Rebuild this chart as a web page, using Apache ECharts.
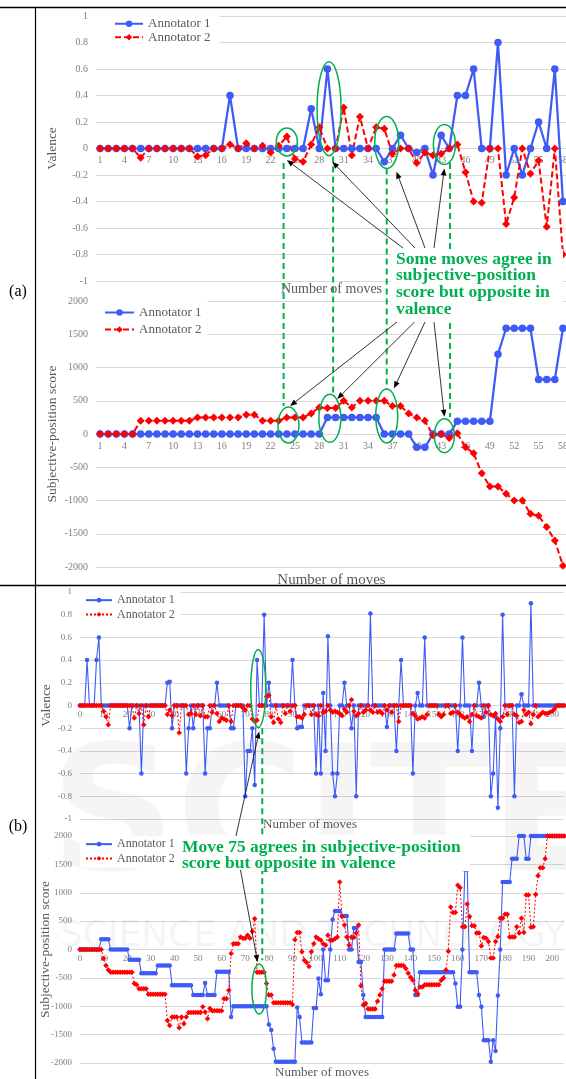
<!DOCTYPE html>
<html>
<head>
<meta charset="utf-8">
<title>Annotator agreement</title>
<script src="https://cdn.jsdelivr.net/npm/echarts@6.0.0/dist/echarts.min.js"></script>
<style>
  html, body { margin: 0; padding: 0; background: #fff; }
  #chart { width: 566px; height: 1079px; }
</style>
</head>
<body>
<div id="chart"></div>
<script>
// ---- panel (a): 58 moves ----
var movesA = ['1','2','3','4','5','6','7','8','9','10','11','12','13','14','15','16','17','18','19','20',
  '21','22','23','24','25','26','27','28','29','30','31','32','33','34','35','36','37','38','39','40',
  '41','42','43','44','45','46','47','48','49','50','51','52','53','54','55','56','57','58'];

var valenceA1 = [0,0,0,0,0,0,0,0,0,0,
  0,0,0,0,0,0,0.4,0,0,0,
  0,0,0,0,0,0,0.3,0,0.6,0,
  0,0,0,0,0,-0.1,0,0.1,0,-0.03,
  0,-0.2,0.1,0,0.4,0.4,0.6,0,0,0.8,
  -0.2,0,-0.2,0,0.2,0,0.6,-0.4];
var valenceA2 = [0,0,0,0,0,-0.07,0,0,0,0,
  0,0,-0.06,-0.05,0,0,0.03,0,0.04,0,
  0.02,-0.03,0.02,0.09,-0.08,-0.1,0.03,0.16,0,0,
  0.31,-0.05,0.24,0,0.16,0.15,-0.04,0,0,-0.11,
  -0.03,-0.05,-0.04,0,0.03,-0.18,-0.4,-0.41,0,0,
  -0.57,-0.37,0,-0.19,-0.09,-0.59,0,-0.8];
var scoreA1 = [0,0,0,0,0,0,0,0,0,0,
  0,0,0,0,0,0,0,0,0,0,
  0,0,0,0,0,0,0,0,250,250,
  250,250,250,250,250,0,0,0,0,-200,
  -200,0,0,0,190,190,190,190,190,1200,
  1590,1590,1590,1590,820,820,820,1590];
var scoreA2 = [0,0,0,0,0,200,200,200,200,200,
  200,200,250,250,250,250,250,250,290,290,
  200,200,200,250,250,250,310,400,390,390,
  500,400,500,500,500,500,420,420,310,250,
  200,-20,0,-60,10,-200,-290,-590,-790,-790,
  -900,-1000,-1000,-1200,-1230,-1400,-1600,-1980];

// ---- panel (b): moves 0..205 ----
var valenceB1 = [0,0,0,0.4,0,0,0,0.4,0.6,0,
  0,0,0,0,0,0,0,0,0,0,
  0,-0.2,0,0,0,0,-0.6,0,0,0,
  0,0,0,0,0,0,0,0.2,0.21,-0.2,
  0,0,0,0,0,-0.6,-0.2,0,-0.2,0,
  0,0,0,-0.6,-0.2,-0.2,0,0,0.2,0,
  0,0,0,0,-0.2,-0.2,0,0,0,0,
  -0.8,-0.4,-0.4,-0.2,-0.7,0.4,0,0,0.8,0,
  0.2,0,0,0,0,0,0,0,0,0,
  0.4,0,-0.2,-0.19,-0.19,0,0,0,0,0,
  -0.6,0,-0.6,0.11,-0.4,0.61,0,-0.6,-0.8,-0.6,
  0,0,0.2,0,0,-0.2,0,-0.8,0,0,
  0,0,0,0.81,0,0,0,0,0,0,
  -0.19,0,0,0,-0.4,0,0.4,0,0,0,
  0,-0.6,0,0.11,0,0,0.6,0,0,0,
  0,0,0,0,0,0,0,0,0,0,
  -0.4,0,0.6,0,0,0,-0.4,0,0,0.2,
  0,-0.1,0,0,-0.8,-0.6,-0.1,-0.9,-0.2,0.8,
  0,0,0,0,-0.8,0,0,0.1,0,0,
  0,0.9,0,0,0,0,0,0,0,0,
  0,0,0,0,0,0];
var valenceB2 = [0,0,0,0,0,0,0,0,0,0,
  -0.05,-0.1,-0.17,0,0,0,0,0,0,0,
  0,0,0,-0.11,0,-0.07,0,-0.17,0,-0.1,
  0,0,0,0,0,0,0,-0.08,-0.04,-0.09,
  0,0,-0.24,0,0,0,-0.08,-0.07,0,-0.08,
  0,-0.09,0,-0.1,-0.1,0,-0.06,0,-0.07,-0.14,
  -0.11,-0.12,-0.13,0,-0.14,0,0,0,0,-0.02,
  -0.04,0,0,-0.12,-0.14,-0.13,0,0,0,0.08,
  0.09,-0.1,-0.15,0,-0.12,-0.15,0,-0.07,0,-0.05,
  0,0,-0.1,-0.1,-0.11,-0.08,0,0,-0.08,0,
  -0.08,-0.09,0,-0.06,-0.05,0,-0.04,-0.06,-0.05,-0.06,
  -0.07,-0.09,-0.03,-0.06,0,0.05,-0.05,-0.09,-0.07,0,
  -0.06,-0.04,0,-0.04,-0.06,0,-0.06,-0.05,-0.07,0,
  -0.04,0,-0.06,0,0,-0.14,0,0,0,0,
  0,-0.07,-0.09,-0.12,-0.11,-0.1,-0.11,-0.08,0,0,
  0,0,-0.08,-0.1,-0.08,0,0,-0.07,-0.06,0,
  -0.06,-0.08,-0.1,-0.11,-0.1,-0.14,-0.08,0,-0.09,-0.1,
  -0.11,0,-0.06,0,-0.08,-0.09,-0.07,-0.12,-0.14,-0.1,
  0,-0.08,0,0,-0.08,-0.09,-0.15,-0.14,-0.04,-0.08,
  -0.06,-0.16,-0.08,0,-0.1,-0.08,-0.06,-0.07,-0.07,-0.06,
  -0.05,-0.03,0,0,0,0];
var scoreB1 = [0,0,0,0,0,0,0,0,0,180,
  180,180,180,0,0,0,0,0,0,0,
  0,-180,-180,-180,-180,-180,-420,-420,-420,-420,
  -420,-420,-420,-280,-280,-280,-280,-280,-280,-630,
  -630,-630,-630,-630,-630,-630,-630,-630,-800,-800,
  -800,-800,-800,-590,-800,-800,-800,-800,-390,-390,
  -390,-390,-390,-390,-1190,-1000,-1000,-1000,-1000,-1000,
  -1000,-1000,-1000,-1000,-1000,-1000,-1000,-1000,-1000,-1000,
  -1320,-1420,-1750,-1980,-1980,-1980,-1980,-1980,-1980,-1980,
  -1980,-1980,-1020,-1190,-1640,-1640,-1640,-1640,-1640,-1030,
  -1030,-510,-790,0,-540,-540,0,530,680,680,
  680,590,590,590,0,0,380,380,-220,-220,
  -800,-1190,-1190,-1190,-1190,-1190,-1190,-1190,-1190,0,
  0,0,0,0,280,280,280,280,280,280,
  0,0,-800,-800,-400,-400,-400,-400,-400,-400,
  -400,-400,-400,-400,-400,-400,-400,-400,-400,-600,
  -1010,-1010,0,1410,1410,-400,-400,-400,-400,-800,
  -1010,-1600,-1600,-1600,-1980,-1600,-1790,-810,0,1190,
  1190,1190,1190,1600,1600,1600,2000,2000,2000,1600,
  1600,2000,2000,2000,2000,2000,2000,2000,2000,2000,
  2000,2000,2000,2000,2000,2000];
var scoreB2 = [0,0,0,0,0,0,0,0,0,0,
  -160,-280,-360,-400,-400,-400,-400,-400,-400,-400,
  -400,-400,-400,-600,-620,-690,-690,-690,-690,-790,
  -790,-790,-790,-790,-790,-790,-790,-1250,-1340,-1190,
  -1190,-1190,-1380,-1190,-1310,-1190,-1110,-1110,-1110,-1110,
  -1110,-1110,-1010,-1100,-1220,-1040,-1080,-1080,-1080,-1080,
  -1080,-870,-870,-720,-70,100,100,100,220,200,
  200,250,200,320,540,-400,-400,-400,-400,-600,
  -800,-800,-940,-940,-940,-940,-940,-940,-940,-940,
  -970,170,300,300,-40,-190,-230,-300,-40,100,
  220,190,165,100,75,250,165,165,190,220,
  1190,580,430,220,75,220,210,290,430,-640,
  -980,-950,-1050,-1050,-1050,-1050,-910,-800,-690,-560,
  -560,-560,-560,-450,-280,-280,-280,-280,-335,-420,
  -490,-540,-720,-780,-660,-660,-620,-620,-620,-620,
  -620,-620,-620,-540,-500,-360,-30,750,650,650,
  1130,1090,400,400,800,580,420,420,290,290,
  60,210,200,140,-150,-150,140,230,550,550,
  620,620,220,220,220,400,290,550,300,960,
  960,390,400,970,1300,1440,1440,1600,2000,2000,
  2000,2000,2000,2000,2000,2000];

[valenceB1, valenceB2, scoreB1, scoreB2].forEach(function (a, i) {
  if (a.length !== 206) throw new Error('panel b series ' + i + ' has ' + a.length);
});
[valenceA1, valenceA2, scoreA1, scoreA2].forEach(function (a, i) {
  if (a.length !== 58) throw new Error('panel a series ' + i + ' has ' + a.length);
});

var serif = '"Liberation Serif", "Times New Roman", serif';
var tickGrey = '#7f7f7f';
var nameGrey = '#595959';
var gridGrey = '#d9d9d9';
var blue = '#3f5bf5';
var red = '#ff0000';
var green = '#00b050';

// grids: [left, top, width, height]; the move axis is lifted onto the zero line
var boxes = [[96, 16, 471, 265], [96, 301, 471, 266], [80, 592, 484, 227], [80, 836, 484, 227]];
function lift(i) { return -boxes[i][3] / 2; }

function withIndex(arr) {
  return arr.map(function (v, i) { return [i, v]; });
}
function plain(v) { return String(Math.round(v * 100) / 100); }

function catAxis(g, gap, fs) {
  return {
    type: 'category', gridIndex: g, data: movesA, boundaryGap: true,
    offset: lift(g),
    axisLine: { onZero: false, lineStyle: { color: gridGrey } },
    axisTick: { show: false },
    axisLabel: { interval: 2, margin: 7, color: tickGrey, fontSize: 10, fontFamily: serif },
    splitLine: { show: false },
    name: 'Number of moves', nameLocation: 'middle', nameGap: gap, nameMoveOverlap: false,
    nameTextStyle: { color: nameGrey, fontSize: fs, fontFamily: serif }
  };
}
function moveAxis(g, gap, pad) {
  return {
    type: 'value', gridIndex: g, min: 0, max: 205, interval: 10,
    offset: lift(g),
    axisLine: { onZero: false, lineStyle: { color: gridGrey } },
    axisTick: { show: false },
    axisLabel: { showMaxLabel: false, margin: 5, color: tickGrey, fontSize: 9, fontFamily: serif },
    splitLine: { show: false },
    name: 'Number of moves', nameLocation: 'middle', nameGap: gap, nameMoveOverlap: false,
    nameTextStyle: { color: nameGrey, fontSize: 13, fontFamily: serif, padding: pad }
  };
}
function yAxis(g, min, max, step, title, gap, fs) {
  return {
    type: 'value', gridIndex: g, min: min, max: max, interval: step,
    axisLine: { show: false, onZero: false }, axisTick: { show: false },
    axisLabel: { margin: 8, color: tickGrey, fontSize: fs, fontFamily: serif, formatter: plain },
    splitLine: { lineStyle: { color: gridGrey, width: 1 } },
    name: title, nameLocation: 'middle', nameGap: gap, nameMoveOverlap: false,
    nameTextStyle: { color: nameGrey, fontSize: 13.5, fontFamily: serif }
  };
}
function legendAt(tag, left, top, pad, iw, ih, fs, lh) {
  return {
    data: ['Annotator 1#' + tag, 'Annotator 2#' + tag],
    orient: 'vertical', left: left, top: top, padding: pad,
    itemWidth: iw, itemHeight: ih, itemGap: 0,
    backgroundColor: '#fff', selectedMode: false,
    formatter: function (n) { return n.split('#')[0]; },
    textStyle: { color: nameGrey, fontSize: fs, lineHeight: lh, fontFamily: serif }
  };
}
function line(name, g, data, colour, width, dash, symbol, size) {
  return {
    name: name, type: 'line', xAxisIndex: g, yAxisIndex: g, data: data,
    symbol: symbol, symbolSize: size, showAllSymbol: true,
    lineStyle: { color: colour, width: width, type: dash },
    itemStyle: { color: colour, borderWidth: 0 },
    emphasis: { disabled: true }
  };
}

var chart = echarts.init(document.getElementById('chart'));

chart.setOption({
  animation: false,
  backgroundColor: '#fff',
  grid: boxes.map(function (b) {
    return { left: b[0], top: b[1], width: b[2], height: b[3], outerBoundsMode: 'none' };
  }),
  xAxis: [
    catAxis(0, 133.5, 14),
    catAxis(1, 138.5, 15),
    moveAxis(2, 113, [0, 24, 0, 0]),
    moveAxis(3, 116.5, [0, 0, 0, 0])
  ],
  yAxis: [
    yAxis(0, -1, 1, 0.2, 'Valence', 37, 10),
    yAxis(1, -2000, 2000, 500, 'Subjective-position score', 37, 10),
    yAxis(2, -1, 1, 0.2, 'Valence', 27, 9),
    yAxis(3, -2000, 2000, 500, 'Subjective-position score', 28, 9)
  ],
  legend: [
    legendAt('av', 96, 15, [2, 9, 3, 18], 28, 8, 13, 13.5),
    legendAt('as', 96, 301, [3, 6, 4, 8], 29, 8, 13, 17),
    legendAt('bv', 80, 592, [1, 6, 2, 5], 26, 6, 12, 14.3),
    legendAt('bs', 80, 836, [1, 6, 2, 5], 26, 6, 12, 14.3)
  ],
  series: [
    line('Annotator 1#av', 0, valenceA1, blue, 2.25, 'solid', 'circle', 7.5),
    line('Annotator 2#av', 0, valenceA2, red, 2, [6, 3], 'diamond', 8),
    line('Annotator 1#as', 1, scoreA1, blue, 2.25, 'solid', 'circle', 7.5),
    line('Annotator 2#as', 1, scoreA2, red, 2, [6, 3], 'diamond', 8),
    line('Annotator 1#bv', 2, withIndex(valenceB1), blue, 1.1, 'solid', 'circle', 4.5),
    line('Annotator 2#bv', 2, withIndex(valenceB2), red, 1, [2, 2], 'diamond', 5.5),
    line('Annotator 1#bs', 3, withIndex(scoreB1), blue, 1.1, 'solid', 'circle', 4.5),
    line('Annotator 2#bs', 3, withIndex(scoreB2), red, 1, [2, 2], 'diamond', 5.5)
  ]
});

// ---- annotations, placed through the grids' own scales ----
function at(g, x, y) {
  var p0 = chart.convertToPixel({ gridIndex: g }, [0, y]);
  var p1 = chart.convertToPixel({ gridIndex: g }, [1, y]);
  return [p0[0] + (p1[0] - p0[0]) * x, p0[1]];
}
function ring(g, x, y, rx, ry) {
  var c = at(g, x, y);
  return { type: 'ellipse', z: 100, silent: true, shape: { cx: c[0], cy: c[1], rx: rx, ry: ry },
    style: { fill: 'none', stroke: green, lineWidth: 1.5 } };
}
function guide(x1, y1, x2, y2) {
  return { type: 'line', z: 90, silent: true, shape: { x1: x1, y1: y1, x2: x2, y2: y2 },
    style: { stroke: green, lineWidth: 2, lineDash: [6, 4] } };
}
function arrow(x1, y1, x2, y2) {
  var ang = Math.atan2(y2 - y1, x2 - x1), len = 7, w = 2.8;
  var bx = x2 - len * Math.cos(ang), by = y2 - len * Math.sin(ang);
  var nx = -Math.sin(ang) * w, ny = Math.cos(ang) * w;
  return [
    { type: 'line', z: 110, silent: true, shape: { x1: x1, y1: y1, x2: bx, y2: by },
      style: { stroke: '#000', lineWidth: 0.8 } },
    { type: 'polygon', z: 110, silent: true,
      shape: { points: [[x2, y2], [bx + nx, by + ny], [bx - nx, by - ny]] }, style: { fill: '#000' } }
  ];
}
function note(lines, x, y0, step) {
  return lines.map(function (t, i) {
    return { type: 'text', z: 120, silent: true,
      style: { text: t, x: x, y: y0 + i * step, align: 'left', verticalAlign: 'middle',
        fill: green, fontSize: 17.5, fontWeight: 'bold', fontFamily: serif } };
  });
}

var g = [];

// faint watermark behind panel (b)
g.push({ type: 'text', z: 1, silent: true, style: { text: 'SCITE', x: 50, y: 825, verticalAlign: 'middle',
  fill: 'rgba(0,0,0,0.04)', fontSize: 175, fontWeight: 'bold', fontFamily: '"DejaVu Sans", sans-serif' } });
g.push({ type: 'text', z: 1, silent: true, style: { text: 'SCIENCE AND TECHNOLOGY', x: 60, y: 937,
  verticalAlign: 'middle', fill: 'rgba(0,0,0,0.045)', fontSize: 36, fontFamily: '"DejaVu Sans", sans-serif' } });

// table frame and panel labels
g.push({ type: 'line', z: 130, silent: true, shape: { x1: 0, y1: 7.5, x2: 566, y2: 7.5 }, style: { stroke: '#000', lineWidth: 1.5 } });
g.push({ type: 'line', z: 130, silent: true, shape: { x1: 0, y1: 585.5, x2: 566, y2: 585.5 }, style: { stroke: '#000', lineWidth: 1.5 } });
g.push({ type: 'line', z: 130, silent: true, shape: { x1: 35.5, y1: 7, x2: 35.5, y2: 1079 }, style: { stroke: '#000', lineWidth: 1.2 } });
g.push({ type: 'text', z: 130, silent: true, style: { text: '(a)', x: 18, y: 292, align: 'center', verticalAlign: 'middle',
  fill: '#000', fontSize: 16, fontFamily: serif } });
g.push({ type: 'text', z: 130, silent: true, style: { text: '(b)', x: 18, y: 827, align: 'center', verticalAlign: 'middle',
  fill: '#000', fontSize: 16, fontFamily: serif } });

// panel (a): moves 24, 29, 36 and 43 (0-based positions)
var ringsValA = [[23.0, 0.05, 10.5, 14], [28.2, 0.3, 12, 47], [35.3, 0.045, 12, 26], [42.4, 0.03, 11, 20]];
var ringsScoreA = [[23.2, 135, 10.5, 18], [28.3, 236, 11, 24], [35.3, 270, 11, 27], [42.4, -25, 10, 17]];
var guidesA = [[22.6, -0.11, 420], [28.7, -0.06, 586], [35.3, -0.15, 662], [43.1, -0.11, 256]];
var tipsValA = [[23.0, -0.087], [28.6, -0.1], [36.5, -0.175], [42.4, -0.15]];
var tipsScoreA = [[23.4, 421], [29.2, 526], [36.2, 687], [42.4, 260]];
var tailsUpA = [403, 415, 425, 434];
var tailsDownA = [397, 414.5, 425, 434];

ringsValA.forEach(function (r) { g.push(ring(0, r[0], r[1], r[2], r[3])); });
ringsScoreA.forEach(function (r) { g.push(ring(1, r[0], r[1], r[2], r[3])); });
guidesA.forEach(function (d) {
  var top = at(0, d[0], d[1]), bot = at(1, d[0], d[2]);
  g.push(guide(top[0], top[1], bot[0], bot[1]));
});
g.push({ type: 'rect', z: 100, silent: true, shape: { x: 391, y: 249, width: 172, height: 71 }, style: { fill: '#fff' } });
g = g.concat(note(['Some moves agree in', 'subjective-position', 'score but opposite in', 'valence'], 396, 259, 16.8));
tipsValA.forEach(function (t, i) {
  var p = at(0, t[0], t[1]);
  g = g.concat(arrow(tailsUpA[i], 248, p[0], p[1]));
});
tipsScoreA.forEach(function (t, i) {
  var p = at(1, t[0], t[1]);
  g = g.concat(arrow(tailsDownA[i], 322, p[0], p[1]));
});

// panel (b): move 75
g.push(ring(2, 75.5, 0.15, 7.5, 39));
g.push(ring(3, 75.9, -696, 7.3, 25));
var gTop = at(2, 77.2, -0.2), gBot = at(3, 77.2, -190);
g.push(guide(gTop[0], gTop[1], gBot[0], gBot[1]));
g.push({ type: 'rect', z: 100, silent: true, shape: { x: 178, y: 835, width: 292, height: 36 }, style: { fill: '#fff' } });
g = g.concat(note(['Move 75 agrees in subjective-position', 'score but opposite in valence'], 182, 847, 16.6));
var tipB1 = at(2, 75.9, -0.23), tipB2 = at(3, 75.2, -220);
g = g.concat(arrow(236, 836, tipB1[0], tipB1[1]));
g = g.concat(arrow(240.5, 870, tipB2[0], tipB2[1]));

chart.setOption({ graphic: g });
</script>
</body>
</html>
